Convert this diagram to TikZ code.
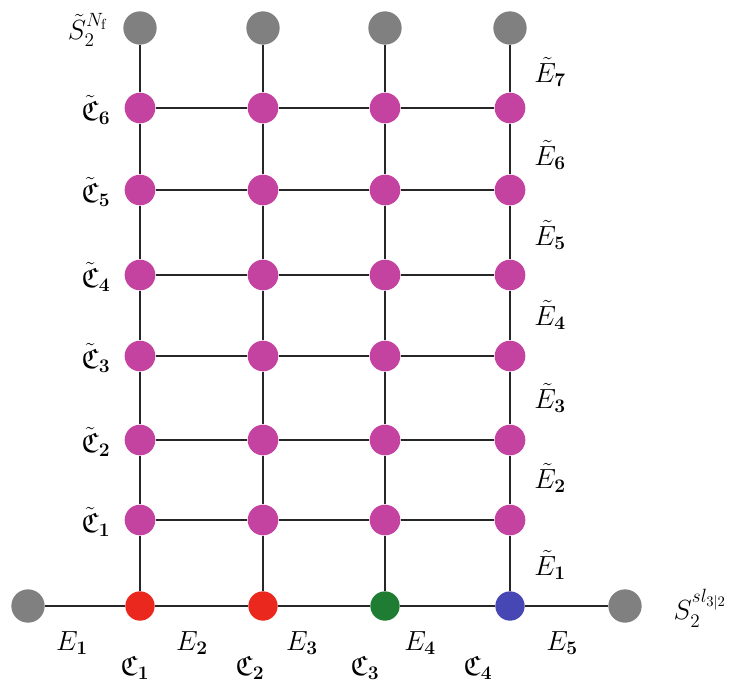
\documentclass[tikz,border=0pt]{standalone}
\usepackage{amssymb}
\begin{document}
\begin{tikzpicture}[x=0.75pt,y=-0.75pt,
  conn/.style={line width=1.7pt,black!85},
  gnode/.style={circle,fill=gnodec,minimum size=25pt,inner sep=0pt},
  mnode/.style={circle,fill=mag,minimum size=23pt,inner sep=0pt},
  bnode/.style={circle,minimum size=22pt,inner sep=0pt},
  lab/.style={font=\fontsize{21}{24}\selectfont,inner sep=0pt}]
\definecolor{mag}{RGB}{196,66,160}
\definecolor{gnodec}{RGB}{128,128,128}
\definecolor{redc}{RGB}{234,40,30}
\definecolor{greenc}{RGB}{30,125,50}
\definecolor{bluec}{RGB}{70,70,180}
\useasboundingbox (0,0) rectangle (731,683);
\def\xa{140}\def\xb{263}\def\xc{385}\def\xd{510}
% top gray
\node[gnode] (t1) at (\xa,28) {};
\node[gnode] (t2) at (\xb,28) {};
\node[gnode] (t3) at (\xc,28) {};
\node[gnode] (t4) at (\xd,28) {};
% bottom row
\node[gnode] (bl) at (28,606) {};
\node[gnode] (br) at (625,606) {};
\node[bnode,fill=redc] (b1) at (\xa,606) {};
\node[bnode,fill=redc] (b2) at (\xb,606) {};
\node[bnode,fill=greenc] (b3) at (\xc,606) {};
\node[bnode,fill=bluec] (b4) at (\xd,606) {};
% magenta grid
\foreach \r/\y in {6/108,5/190,4/275,3/356,2/440,1/520}{
  \node[mnode] (m1\r) at (\xa,\y) {};
  \node[mnode] (m2\r) at (\xb,\y) {};
  \node[mnode] (m3\r) at (\xc,\y) {};
  \node[mnode] (m4\r) at (\xd,\y) {};
}
% connectors
\foreach \c/\t/\b in {1/t1/b1,2/t2/b2,3/t3/b3,4/t4/b4}{
  \draw[conn] (\t) -- (m\c6) -- (m\c5) -- (m\c4) -- (m\c3) -- (m\c2) -- (m\c1) -- (\b);
}
\foreach \r in {1,...,6}{
  \draw[conn] (m1\r) -- (m2\r) -- (m3\r) -- (m4\r);
}
\draw[conn] (bl) -- (b1) -- (b2) -- (b3) -- (b4) -- (br);
% left labels
\foreach \r/\y in {6/108,5/190,4/275,3/356,2/440,1/520}{
  \node[lab] (lc\r) at (96,\y+2) {$\tilde{\mathfrak{C}}_{\mathbf{\r}}$};
}
\node[lab] (ls) at (88,30) {$\tilde{S}_2^{N_{\mathrm{f}}}$};
% right labels
\foreach \r/\y in {7/72,6/155,5/235,4/315,3/398,2/478,1/565}{
  \node[lab] (le\r) at (550,\y) {$\tilde{E}_{\mathbf{\r}}$};
}
\node[lab] (rs) at (700,608) {$S_2^{sl_{3|2}}$};
% bottom labels
\node[lab] (e1) at (72,643) {$E_{\mathbf{1}}$};
\node[lab] (e2) at (192,643) {$E_{\mathbf{2}}$};
\node[lab] (e3) at (302,643) {$E_{\mathbf{3}}$};
\node[lab] (e4) at (420,643) {$E_{\mathbf{4}}$};
\node[lab] (e5) at (562,643) {$E_{\mathbf{5}}$};
\node[lab] (c1) at (135,668) {$\mathfrak{C}_{\mathbf{1}}$};
\node[lab] (c2) at (250,668) {$\mathfrak{C}_{\mathbf{2}}$};
\node[lab] (c3) at (365,668) {$\mathfrak{C}_{\mathbf{3}}$};
\node[lab] (c4) at (478,668) {$\mathfrak{C}_{\mathbf{4}}$};
\end{tikzpicture}
\end{document}
